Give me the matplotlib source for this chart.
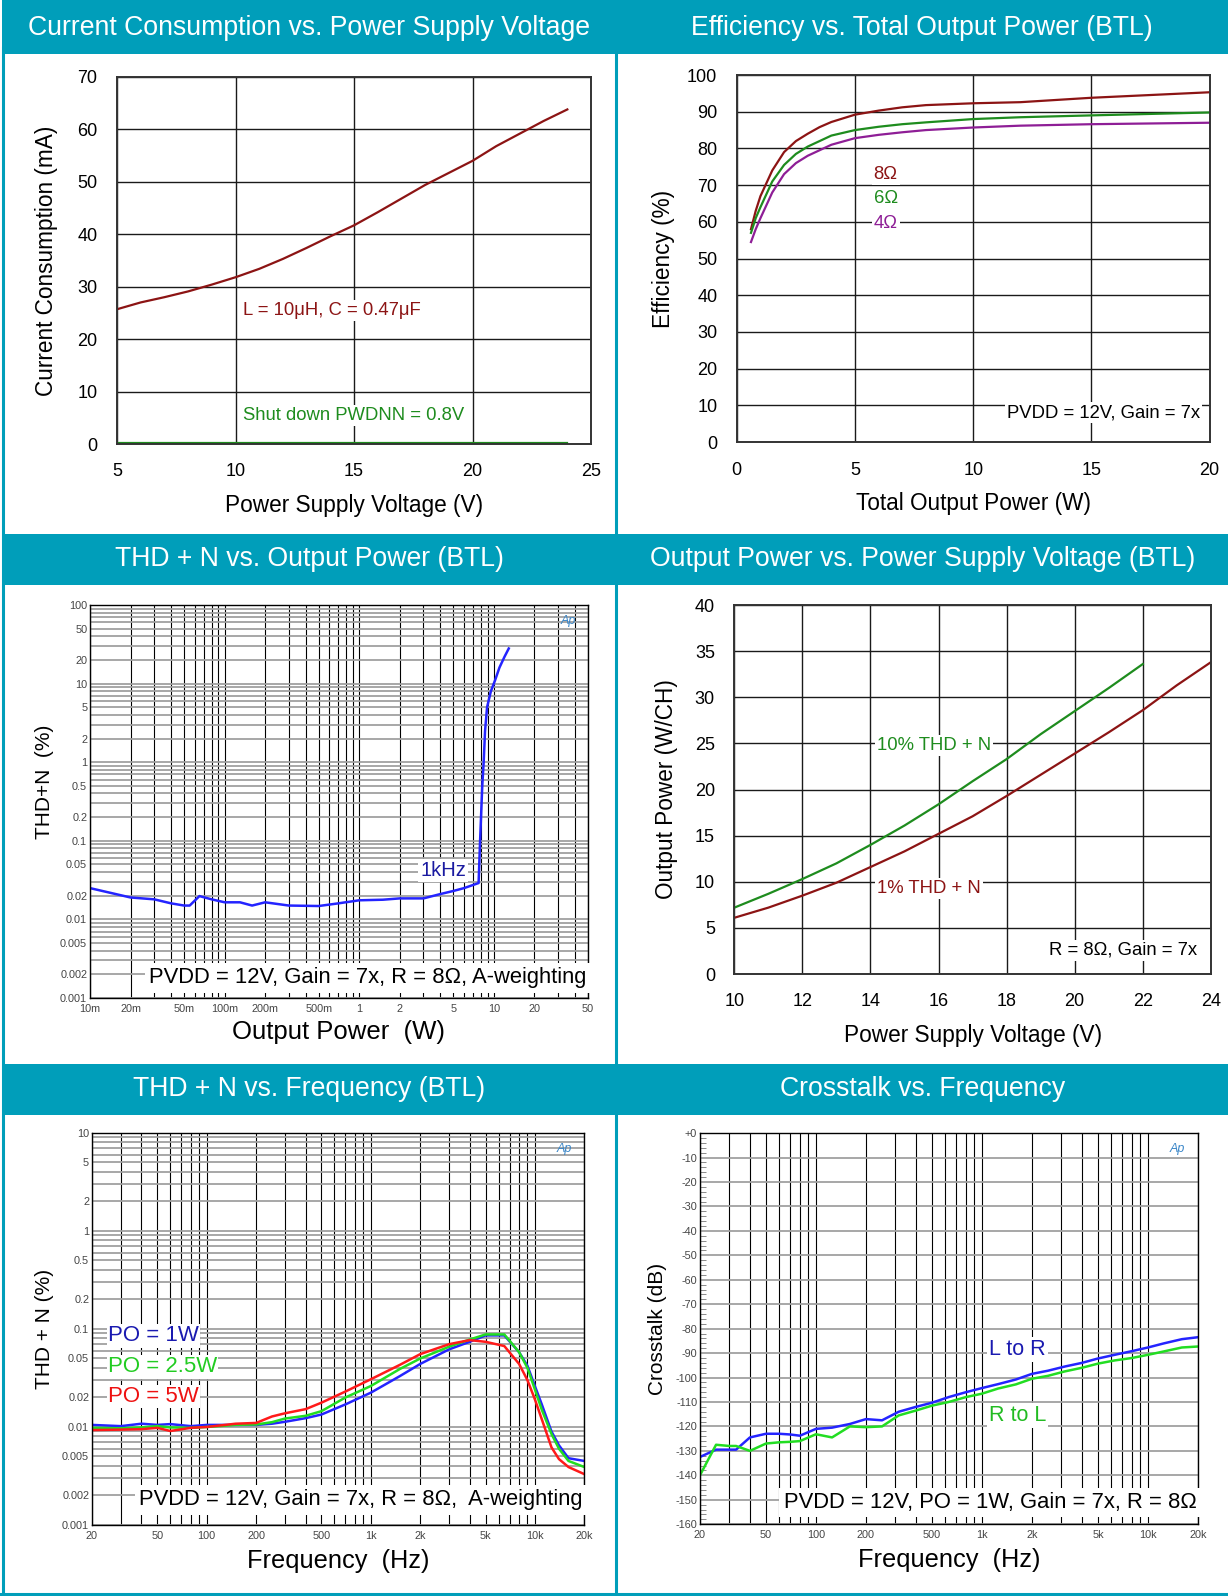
import numpy as np
import matplotlib
matplotlib.use("Agg")
import matplotlib.pyplot as plt
from matplotlib.ticker import FixedLocator, LogLocator, MultipleLocator, NullFormatter
from matplotlib.patches import Rectangle
from matplotlib.lines import Line2D

plt.rcParams['font.family'] = ['Liberation Sans', 'DejaVu Sans']

# ---- data ----
# current consumption vs supply voltage
cc_v = [5, 6, 7, 8, 9, 10, 11, 12, 13, 14, 15, 16, 17, 18, 19, 20, 21, 22, 23, 24]
cc_ma = [25.7, 27.0, 28.0, 29.1, 30.4, 31.8, 33.4, 35.3, 37.4, 39.6, 41.7, 44.2, 46.8,
         49.4, 51.7, 54.0, 56.8, 59.2, 61.6, 63.8]
cc_sd = [0.1] * len(cc_v)

# efficiency vs total output power
eff_p = [0.6, 0.8, 1.0, 1.5, 2.0, 2.5, 3.0, 3.5, 4.0, 5.0, 6.0, 7.0, 8.0, 10.0, 12.0, 15.0, 20.0]
eff_8 = [58, 63, 67, 74, 79, 82, 84, 85.8, 87.2, 89.2, 90.3, 91.2, 91.8, 92.3, 92.6, 93.8, 95.3]
eff_6 = [57, 61, 64, 71, 75.5, 78.5, 80.5, 82, 83.5, 85, 85.9, 86.6, 87.1, 88, 88.5, 89, 89.8]
eff_4 = [54.5, 58, 61, 68, 73, 76, 78, 79.5, 81, 82.8, 83.7, 84.4, 85, 85.7, 86.2, 86.6, 87]

# THD+N vs output power
thp_w = [0.01, 0.02, 0.03, 0.04, 0.05, 0.055, 0.065, 0.08, 0.1, 0.13, 0.16, 0.2, 0.3, 0.5,
         0.7, 1.0, 1.5, 2.0, 3.0, 4.0, 5.0, 6.0, 7.7, 7.9, 8.2, 8.4, 8.6, 8.9, 9.5, 10.2,
         11.0, 12.0, 12.9]
thp_pct = [0.025, 0.019, 0.018, 0.016, 0.015, 0.015, 0.0198, 0.018, 0.0165, 0.0165, 0.015,
           0.0165, 0.015, 0.0148, 0.016, 0.0175, 0.0178, 0.0185, 0.0185, 0.021, 0.023,
           0.025, 0.029, 0.1, 0.5, 1.0, 2.5, 5.0, 8.0, 11.0, 16.0, 22.0, 28.0]
thp_xt = [0.01, 0.02, 0.05, 0.1, 0.2, 0.5, 1, 2, 5, 10, 20, 50]
thp_xl = ['10m', '20m', '50m', '100m', '200m', '500m', '1', '2', '5', '10', '20', '50']
thp_yt = [100, 50, 20, 10, 5, 2, 1, 0.5, 0.2, 0.1, 0.05, 0.02, 0.01, 0.005, 0.002, 0.001]
thp_yl = ['100', '50', '20', '10', '5', '2', '1', '0.5', '0.2', '0.1', '0.05', '0.02',
          '0.01', '0.005', '0.002', '0.001']

# output power vs supply voltage
op_v10 = [10, 11, 12, 13, 14, 15, 16, 17, 18, 19, 20, 21, 22]
op_10 = [7.2, 8.7, 10.3, 12.0, 14.0, 16.1, 18.4, 20.9, 23.3, 26.0, 28.5, 31.0, 33.6]
op_v1 = [10, 11, 12, 13, 14, 15, 16, 17, 18, 19, 20, 21, 22, 23, 24]
op_1 = [6.1, 7.2, 8.5, 9.9, 11.6, 13.3, 15.2, 17.1, 19.3, 21.6, 23.9, 26.2, 28.6, 31.3, 33.8]

# THD+N vs frequency
thf_f = [20, 30, 40, 50, 60, 80, 100, 150, 200, 250, 300, 400, 500, 700, 1000, 1500, 2000,
         3000, 4000, 5000, 6500, 8000, 9000, 10000, 11000, 12600, 14000, 16000, 20000]
thf_1w = [0.0105, 0.0102, 0.0108, 0.0105, 0.0107, 0.0102, 0.0105, 0.0105, 0.0105, 0.0108,
          0.0113, 0.0123, 0.0134, 0.017, 0.0224, 0.033, 0.044, 0.062, 0.074, 0.086, 0.086,
          0.058, 0.042, 0.026, 0.017, 0.009, 0.0065, 0.0048, 0.0045]
thf_25w = [0.0098, 0.0097, 0.0099, 0.0102, 0.0099, 0.0098, 0.01, 0.0105, 0.0106, 0.0112,
           0.0122, 0.013, 0.0145, 0.02, 0.0262, 0.039, 0.05, 0.066, 0.078, 0.088, 0.088,
           0.058, 0.04, 0.024, 0.015, 0.0085, 0.006, 0.0045, 0.0039]
thf_5w = [0.0093, 0.0094, 0.0095, 0.0098, 0.0091, 0.0098, 0.01, 0.0108, 0.011, 0.0128,
          0.0138, 0.0152, 0.0177, 0.023, 0.0307, 0.043, 0.0554, 0.07, 0.077, 0.074, 0.067,
          0.044, 0.03, 0.019, 0.012, 0.0062, 0.0047, 0.0039, 0.0033]
thf_xt = [20, 50, 100, 200, 500, 1000, 2000, 5000, 10000, 20000]
thf_xl = ['20', '50', '100', '200', '500', '1k', '2k', '5k', '10k', '20k']
thf_yt = [10, 5, 2, 1, 0.5, 0.2, 0.1, 0.05, 0.02, 0.01, 0.005, 0.002, 0.001]
thf_yl = ['10', '5', '2', '1', '0.5', '0.2', '0.1', '0.05', '0.02', '0.01', '0.005',
          '0.002', '0.001']

# crosstalk vs frequency
ct_f = [20, 25, 30, 33, 40, 50, 60, 70, 80, 100, 125, 160, 200, 250, 315, 400, 500, 630,
        800, 1000, 1250, 1600, 2000, 2500, 3150, 4000, 5000, 6300, 8000, 10000, 12500,
        16000, 20000]
ct_lr = [-132.5, -129.5, -129.5, -129.5, -124.5, -123, -123, -123.3, -123.8, -121, -120.5,
         -119, -117, -117.5, -114, -112, -110.3, -108, -106, -104.3, -102.7, -100.8, -98.5,
         -97.2, -95.5, -94, -92.2, -90.7, -89.2, -87.7, -86, -84.3, -83.5]
ct_rl = [-140, -127.5, -128, -128, -130, -127, -126.5, -126.3, -126, -123.2, -124.5, -120,
         -120.3, -120, -115.5, -113.5, -111.5, -110, -108, -106.6, -104.5, -102.8, -100.5,
         -99.3, -97.5, -96, -94.3, -93, -92, -90.7, -89.3, -87.7, -87.3]
ct_yt = list(range(0, -161, -10))
ct_yl = ['+0'] + [str(v) for v in ct_yt[1:]]

TEAL = '#009EBA'
DRED = '#8C1414'
DGRN = '#1E8C1E'
PURP = '#8E1E96'

fig = plt.figure(figsize=(12.28, 15.96), dpi=100)

# headers and frame
headers = [(0.9662, 0.0338, 'Current Consumption vs. Power Supply Voltage', 'Efficiency vs. Total Output Power (BTL)'),
           (0.6335, 0.032, 'THD + N vs. Output Power (BTL)', 'Output Power vs. Power Supply Voltage (BTL)'),
           (0.3014, 0.032, 'THD + N vs. Frequency (BTL)', 'Crosstalk vs. Frequency')]
for yb, hh, tl, tr in headers:
    fig.patches.append(Rectangle((0.0015, yb), 0.9985, hh, transform=fig.transFigure,
                                 facecolor=TEAL, edgecolor='none', zorder=0))
    fig.text(0.252, yb + 0.016, tl, color='white', fontsize=19.2, ha='center', va='center')
    fig.text(0.751, yb + 0.016, tr, color='white', fontsize=19.2, ha='center', va='center')
for xs, ys in [([0.0025, 0.0025], [0.0, 0.97]), ([0.5015, 0.5015], [0.0, 0.97]),
               ([0.0, 1.0], [0.0012, 0.0012])]:
    fig.lines.append(Line2D(xs, ys, transform=fig.transFigure, color=TEAL, lw=2.2))

WB = dict(facecolor='white', edgecolor='none', pad=1.5)
LAB = 16.3
NOTE = 13.3


def lin_style(ax):
    ax.grid(True, color='#1a1a1a', lw=1.0)
    ax.set_axisbelow(True)
    for s in ax.spines.values():
        s.set_color('#333333')
        s.set_linewidth(1.4)
    ax.tick_params(length=0, labelsize=13, pad=14)


def ap_style(ax, xt, xl, yt, yl):
    ax.set_xscale('log')
    ax.xaxis.set_major_locator(FixedLocator(xt))
    ax.set_xticklabels(xl)
    ax.xaxis.set_minor_locator(LogLocator(base=10, subs=np.arange(1, 10), numticks=60))
    ax.xaxis.set_minor_formatter(NullFormatter())
    ax.grid(True, which='both', axis='x', color='black', lw=0.8)
    for s in ax.spines.values():
        s.set_color('black')
        s.set_linewidth(1.0)
    ax.tick_params(which='both', length=0, labelsize=7.8, pad=2, labelcolor='#444444')
    ax.tick_params(axis='x', pad=4)
    ax.set_axisbelow(True)
    if yt is not None:
        ax.set_yscale('log')
        ax.yaxis.set_major_locator(FixedLocator(yt))
        ax.set_yticklabels(yl)
        ax.yaxis.set_minor_locator(LogLocator(base=10, subs=np.arange(1, 10), numticks=60))
        ax.yaxis.set_minor_formatter(NullFormatter())
        ax.grid(True, which='both', axis='y', color='#a0a0a0', lw=1.3)
    ax.text(0.975, 0.975, 'Ap', transform=ax.transAxes, ha='right', va='top',
            fontsize=9, style='italic', color='#3a86c8')


# panel 1
ax1 = fig.add_axes([0.0953, 0.7218, 0.386, 0.230])
ax1.plot(cc_v, cc_ma, color=DRED, lw=1.6)
ax1.plot(cc_v, cc_sd, color=DGRN, lw=1.6)
ax1.set_xlim(5, 25)
ax1.set_ylim(0, 70)
ax1.set_xticks([5, 10, 15, 20, 25])
ax1.set_yticks(range(0, 71, 10))
lin_style(ax1)
ax1.set_xlabel('Power Supply Voltage (V)', fontsize=LAB, labelpad=10)
ax1.set_ylabel('Current Consumption (mA)', fontsize=LAB, labelpad=14)
ax1.text(10.3, 25.5, 'L = 10\u03bcH, C = 0.47\u03bcF', color=DRED, fontsize=NOTE,
         va='center', bbox=WB)
ax1.text(10.3, 5.5, 'Shut down PWDNN = 0.8V', color=DGRN, fontsize=NOTE, va='center',
         bbox=WB)

# panel 2
ax2 = fig.add_axes([0.600, 0.723, 0.385, 0.230])
ax2.plot(eff_p, eff_8, color=DRED, lw=1.6)
ax2.plot(eff_p, eff_6, color=DGRN, lw=1.6)
ax2.plot(eff_p, eff_4, color=PURP, lw=1.6)
ax2.set_xlim(0, 20)
ax2.set_ylim(0, 100)
ax2.set_xticks([0, 5, 10, 15, 20])
ax2.set_yticks(range(0, 101, 10))
lin_style(ax2)
ax2.set_xlabel('Total Output Power (W)', fontsize=LAB, labelpad=10)
ax2.set_ylabel('Efficiency (%)', fontsize=LAB, labelpad=9)
for yv, lab, c in [(73, '8\u03a9', DRED), (66.3, '6\u03a9', DGRN), (59.5, '4\u03a9', PURP)]:
    ax2.text(6.3, yv, lab, color=c, fontsize=NOTE, va='center', ha='center', bbox=WB)
ax2.text(19.6, 8, 'PVDD = 12V, Gain = 7x', fontsize=NOTE, ha='right', va='center', bbox=WB)

# panel 3
ax3 = fig.add_axes([0.0733, 0.3747, 0.4055, 0.2462])
ax3.plot(thp_w, thp_pct, color='#2424ff', lw=1.8)
ax3.set_xlim(0.01, 50)
ax3.set_ylim(0.001, 100)
ap_style(ax3, thp_xt, thp_xl, thp_yt, thp_yl)
ax3.set_xlabel('Output Power  (W)', fontsize=18.5, labelpad=5)
ax3.set_ylabel('THD+N  (%)', fontsize=15, labelpad=8)
ax3.yaxis.set_label_coords(-0.072, 0.55)
ax3.text(4.2, 0.042, '1kHz', color='#1a1aa0', fontsize=14.5, ha='center', va='center',
         bbox=WB)
ax3.text(49, 0.0018, 'PVDD = 12V, Gain = 7x, R = 8\u03a9, A-weighting', fontsize=15.8,
         ha='right', va='center', bbox=dict(facecolor='white', edgecolor='none', pad=3))

# panel 4
ax4 = fig.add_axes([0.598, 0.3897, 0.388, 0.2312])
ax4.plot(op_v10, op_10, color=DGRN, lw=1.6)
ax4.plot(op_v1, op_1, color=DRED, lw=1.6)
ax4.set_xlim(10, 24)
ax4.set_ylim(0, 40)
ax4.set_xticks(range(10, 25, 2))
ax4.set_yticks(range(0, 41, 5))
lin_style(ax4)
ax4.set_xlabel('Power Supply Voltage (V)', fontsize=LAB, labelpad=10)
ax4.set_ylabel('Output Power (W/CH)', fontsize=LAB, labelpad=12)
ax4.text(14.2, 24.8, '10% THD + N', color=DGRN, fontsize=NOTE, va='center', bbox=WB)
ax4.text(14.2, 9.3, '1% THD + N', color=DRED, fontsize=NOTE, va='center', bbox=WB)
ax4.text(23.6, 2.6, 'R = 8\u03a9, Gain = 7x', fontsize=NOTE, ha='right', va='center',
         bbox=WB)

# panel 5
ax5 = fig.add_axes([0.0749, 0.0445, 0.401, 0.2456])
ax5.plot(thf_f, thf_1w, color='#2424ff', lw=1.8)
ax5.plot(thf_f, thf_25w, color='#22dd22', lw=1.8)
ax5.plot(thf_f, thf_5w, color='#ff1a1a', lw=1.8)
ax5.set_xlim(20, 20000)
ax5.set_ylim(0.001, 10)
ap_style(ax5, thf_xt, thf_xl, thf_yt, thf_yl)
ax5.set_xlabel('Frequency  (Hz)', fontsize=18.3, labelpad=6)
ax5.set_ylabel('THD + N (%)', fontsize=15, labelpad=6)
for yv, lab, c in [(0.085, 'PO = 1W', '#1a1ab0'), (0.041, 'PO = 2.5W', '#22cc22'),
                   (0.0205, 'PO = 5W', '#ee1111')]:
    ax5.text(25, yv, lab, color=c, fontsize=16, va='center',
             bbox=dict(facecolor='white', edgecolor='none', pad=1))
ax5.text(19600, 0.0018, 'PVDD = 12V, Gain = 7x, R = 8\u03a9,  A-weighting', fontsize=15.8,
         ha='right', va='center', bbox=dict(facecolor='white', edgecolor='none', pad=3))

# panel 6
ax6 = fig.add_axes([0.570, 0.045, 0.4055, 0.245])
ax6.plot(ct_f, ct_lr, color='#2424ff', lw=1.8)
ax6.plot(ct_f, ct_rl, color='#22dd22', lw=1.8)
ax6.set_xlim(20, 20000)
ax6.set_ylim(-160, 0)
ap_style(ax6, thf_xt, thf_xl, None, None)
ax6.yaxis.set_major_locator(FixedLocator(ct_yt))
ax6.set_yticklabels(ct_yl)
ax6.yaxis.set_minor_locator(MultipleLocator(2))
ax6.grid(True, which='major', axis='y', color='#a0a0a0', lw=1.3)
ax6.tick_params(axis='y', which='minor', length=4, direction='in', color='#777777')
ax6.set_xlabel('Frequency  (Hz)', fontsize=18.3, labelpad=6)
ax6.set_ylabel('Crosstalk (dB)', fontsize=15, labelpad=6)
ax6.text(1100, -88.5, 'L to R', color='#1a1ab0', fontsize=15.5, va='center', bbox=WB)
ax6.text(1100, -115.5, 'R to L', color='#22bb22', fontsize=15.5, va='center', bbox=WB)
ax6.text(19600, -151, 'PVDD = 12V, PO = 1W, Gain = 7x, R = 8\u03a9', fontsize=15.8,
         ha='right', va='center', bbox=dict(facecolor='white', edgecolor='none', pad=3))

fig.savefig('out.png', dpi=100)
